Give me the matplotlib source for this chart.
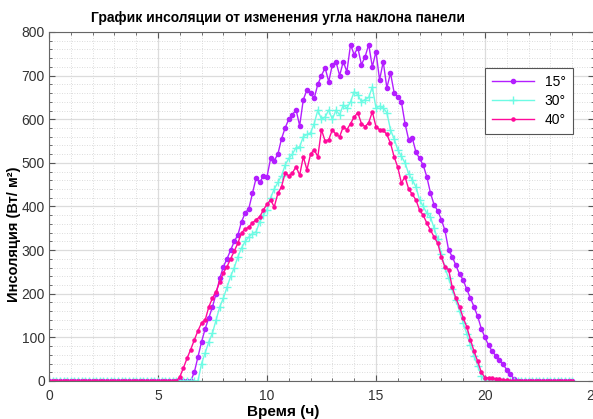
import matplotlib
matplotlib.use('Agg')
import matplotlib.pyplot as plt
from matplotlib.ticker import MultipleLocator
import numpy as np

plt.rcParams['font.family'] = ['Liberation Sans Narrow', 'Liberation Sans', 'DejaVu Sans']

step = 1 / 6  # 10-minute samples, 0..24 h
hours = np.arange(0, 145) * step

# 15 deg: non-zero part starts at 6.5 h
start_15 = 39
vals_15 = [0, 20, 55, 90, 120, 145, 170, 200, 235, 262, 280, 300, 320, 335, 365, 385,
           395, 430, 465, 455, 470, 468, 510, 505, 520, 555, 580, 600, 610, 622, 585,
           645, 667, 660, 648, 680, 700, 718, 686, 725, 732, 700, 732, 709, 771, 748,
           764, 725, 743, 771, 720, 755, 690, 732, 672, 706, 661, 651, 640, 590, 553,
           557, 525, 510, 495, 468, 431, 404, 390, 370, 345, 300, 285, 265, 245, 232,
           210, 190, 170, 148, 120, 100, 82, 68, 58, 48, 38, 26, 15, 5, 0]

# 30 deg: starts at 6.83 h
start_30 = 41
vals_30 = [0, 40, 65, 90, 110, 140, 170, 190, 215, 240, 260, 285, 305, 320, 330, 338,
           342, 365, 380, 392, 420, 440, 455, 470, 495, 510, 520, 535, 537, 560, 565,
           569, 590, 621, 600, 605, 621, 600, 621, 610, 633, 625, 640, 663, 656, 640,
           645, 650, 674, 626, 630, 626, 615, 576, 555, 530, 515, 500, 475, 461, 445,
           415, 400, 385, 376, 350, 325, 290, 260, 235, 210, 185, 160, 133, 108, 82,
           58, 35, 12, 0]

# 40 deg: starts at 5.83 h
start_40 = 35
vals_40 = [0, 9, 30, 52, 72, 94, 115, 133, 140, 170, 190, 205, 228, 248, 262, 280, 298,
           316, 340, 348, 353, 362, 370, 376, 392, 405, 415, 399, 430, 445, 477, 470,
           477, 491, 472, 514, 484, 520, 530, 514, 576, 550, 553, 576, 565, 560, 583,
           576, 590, 605, 615, 590, 583, 592, 617, 583, 576, 575, 565, 545, 514, 490,
           454, 468, 440, 428, 415, 392, 380, 362, 346, 330, 316, 284, 261, 255, 215,
           190, 170, 145, 124, 95, 68, 45, 20, 8, 7, 6, 5, 4, 3, 2, 1, 0]

labels = ['15°', '30°', '40°']


def full(start, vals):
    y = np.zeros(len(hours))
    y[start:start + len(vals)] = vals
    return y


y15 = full(start_15, vals_15)
y30 = full(start_30, vals_30)
y40 = full(start_40, vals_40)

fig = plt.figure(figsize=(5.93, 4.19), dpi=100)
ax = fig.add_axes([0.0826, 0.0907, 0.919, 0.833])

ax.plot(hours, y15, color='#b31eff', marker='.', markersize=6, lw=1.0, label=labels[0])
ax.plot(hours, y30, color='#6dfbe4', marker='+', markersize=6, mew=1.0, lw=1.0, label=labels[1])
ax.plot(hours, y40, color='#ff0a9a', marker='.', markersize=4.5, lw=1.0, label=labels[2])

ax.set_xlim(0, 25)
ax.set_ylim(0, 800)
ax.xaxis.set_major_locator(MultipleLocator(5))
ax.xaxis.set_minor_locator(MultipleLocator(1))
ax.yaxis.set_major_locator(MultipleLocator(100))
ax.yaxis.set_minor_locator(MultipleLocator(20))
ax.grid(True, which='major', color='#dcdcdc', lw=0.9)
ax.grid(True, which='minor', color='#d0d0d0', lw=0.6, linestyle=(0, (1, 2)))
ax.set_axisbelow(True)
ax.tick_params(which='both', direction='in', top=True, right=True, colors='#555555',
               labelcolor='#333333', labelsize=10)
ax.tick_params(which='major', length=4)
ax.tick_params(axis='x', which='major', pad=6)
ax.tick_params(axis='y', which='major', pad=3)
ax.tick_params(which='minor', length=2)
for s in ax.spines.values():
    s.set_color('#666666')
    s.set_linewidth(0.8)

ax.set_title('График инсоляции от изменения угла наклона панели', fontsize=10,
             fontweight='bold', pad=7, x=0.42)
ax.set_xlabel('Время (ч)', fontsize=11, fontweight='bold', labelpad=1, x=0.43)
ax.set_ylabel('Инсоляция (Вт/ м²)', fontsize=10.5, fontweight='bold')
ax.yaxis.set_label_coords(-0.052, 0.42)

leg = ax.legend(loc='upper left', bbox_to_anchor=(0.80, 0.897), borderaxespad=0,
                fancybox=False, framealpha=1, edgecolor='#555555', fontsize=10,
                handlelength=3.0, borderpad=0.5, labelspacing=0.35)
leg.get_frame().set_linewidth(0.8)

fig.savefig('out.png', dpi=100)
